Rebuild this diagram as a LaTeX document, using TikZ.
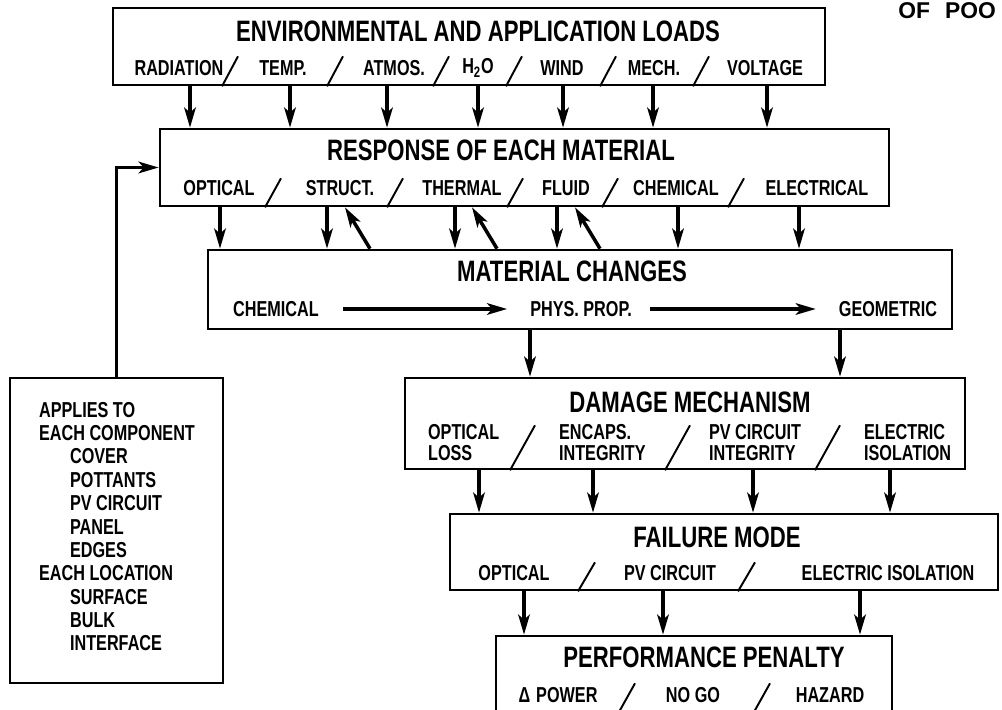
\documentclass[tikz,border=0pt]{standalone}
\usepackage{fontspec}
\newfontfamily\diagfont{Liberation Sans}[FakeStretch=0.75]
\newfontfamily\hdrfont{Liberation Sans}
\usepackage{tikz}
\usetikzlibrary{arrows.meta, positioning, calc, fit}

\begin{document}
\begin{tikzpicture}[
  x=0.2mm, y=-0.2mm,
  bx/.style={rectangle, draw=black, line width=1.5pt, inner sep=0pt},
  ttl/.style={font=\diagfont\bfseries\fontsize{16.8}{18}\selectfont, inner sep=1pt},
  lb/.style={font=\diagfont\bfseries\fontsize{12.3}{12}\selectfont, inner sep=1pt},
  ar/.style={-{Stealth[length=4mm, width=2.3mm, inset=1mm]}, line width=2pt},
  sl/.style={line width=1.1pt}
]
\clip (0,0) rectangle (1002,710);
\fill[white] (0,0) rectangle (1002,710);

%  Loads 
\node[bx, fit={(113,8) (825,85)}] (env) {};
\node[ttl] (envttl) at (478,31) {ENVIRONMENTAL AND APPLICATION LOADS};
\node[lb] (rad)   at (179,68) {RADIATION};
\node[lb] (temp)  at (283,68) {TEMP.};
\node[lb] (atmos) at (394,68) {ATMOS.};
\node[lb] (water) at (478,68) {H\textsubscript{2}O};
\node[lb] (wind)  at (562,68) {WIND};
\node[lb] (mech)  at (654,68) {MECH.};
\node[lb] (volt)  at (765,68) {VOLTAGE};
\foreach \x in {222,327,433,506,600,693}
  \draw[sl] (\x,0 |- env.south) -- ++(16,-30);

%  Material response 
\node[bx, fit={(160,129) (889,206)}] (resp) {};
\node[ttl] (respttl) at (501,150) {RESPONSE OF EACH MATERIAL};
\node[lb] (ropt)    at (219,188) {OPTICAL};
\node[lb] (rstruct) at (340,188) {STRUCT.};
\node[lb] (rtherm)  at (462,188) {THERMAL};
\node[lb] (rfluid)  at (566,188) {FLUID};
\node[lb] (rchem)   at (676,188) {CHEMICAL};
\node[lb] (relec)   at (817,188) {ELECTRICAL};
\foreach \x in {265,387,507,602,728}
  \draw[sl] (\x,0 |- resp.south) -- ++(16,-29);

%  Material changes 
\node[bx, fit={(208,250) (952,329)}] (matl) {};
\node[ttl] (matttl) at (572,271) {MATERIAL CHANGES};
\node[lb] (mchem) at (276,309) {CHEMICAL};
\node[lb] (mphys) at (581,309) {PHYS. PROP.};
\node[lb] (mgeom) at (888,309) {GEOMETRIC};

%  Damage mechanism 
\node[bx, fit={(405,378) (965,469)}] (dmg) {};
\node[ttl] (dmgttl) at (690,402) {DAMAGE MECHANISM};
\node[lb, align=left, anchor=west] (dopt)   at (426,443) {OPTICAL\\LOSS};
\node[lb, align=left, anchor=west] (dencap) at (557,443) {ENCAPS.\\INTEGRITY};
\node[lb, align=left, anchor=west] (dpv)    at (707,443) {PV CIRCUIT\\INTEGRITY};
\node[lb, align=left, anchor=west] (delec)  at (862,443) {ELECTRIC\\ISOLATION};
\foreach \x in {510,665,815}
  \draw[sl] (\x,0 |- dmg.south) -- ++(25,-45);

%  Failure mode 
\node[bx, fit={(450,514) (998,590)}] (fail) {};
\node[ttl] (failttl) at (717,537) {FAILURE MODE};
\node[lb] (fopt)  at (514,573) {OPTICAL};
\node[lb] (fpv)   at (670,573) {PV CIRCUIT};
\node[lb] (felec) at (888,573) {ELECTRIC ISOLATION};
\foreach \x in {578,738}
  \draw[sl] (\x,0 |- fail.south) -- ++(17,-29);

%  Performance penalty 
\node[bx, fit={(496,636) (892,716)}] (perf) {};
\node[ttl] (perfttl) at (704,657) {PERFORMANCE PENALTY};
\node[lb] (ppow)  at (558,695) {Δ\hspace{1.2mm}POWER};
\node[lb] (pnogo) at (693,695) {NO GO};
\node[lb] (phaz)  at (830,695) {HAZARD};
\foreach \x in {616,751}
  \draw[sl] (\x,0 |- perf.south) -- ++(19,-34);

%  Applies-to list 
\node[bx, fit={(10,378) (223,683)}] (apply) {};
\node[lb, align=left, anchor=north west,
      font=\diagfont\bfseries\fontsize{12.3}{13.3}\selectfont] (applytxt) at (37,400)
      {APPLIES TO\\EACH COMPONENT\\\hspace*{6.2mm}COVER\\\hspace*{6.2mm}POTTANTS\\
       \hspace*{6.2mm}PV CIRCUIT\\\hspace*{6.2mm}PANEL\\\hspace*{6.2mm}EDGES\\
       EACH LOCATION\\\hspace*{6.2mm}SURFACE\\\hspace*{6.2mm}BULK\\\hspace*{6.2mm}INTERFACE};

%  Page header fragment 
\node[font=\hdrfont\bfseries\fontsize{13}{14}\selectfont, anchor=west, inner sep=0pt]
      (ofpoo) at (898,11) {OF\hspace{3mm}POO};

%  Connections 
\foreach \x in {190,290,387,478,563,653,767}
  \draw[ar] (\x,0 |- env.south) -- (\x,0 |- resp.north);
\foreach \x in {220,327,455,557,678,799}
  \draw[ar] (\x,0 |- resp.south) -- (\x,0 |- matl.north);
\foreach \a/\b in {370/345,497/472,600/575}
  \draw[ar] (\a,0 |- matl.north) -- (\b,0 |- resp.south);
\draw[ar, shorten <=4.5mm, shorten >=4.2mm] (mchem) -- (mphys);
\draw[ar, shorten <=3.2mm, shorten >=4.2mm] (mphys) -- (mgeom);
\foreach \x in {530,840}
  \draw[ar] (\x,0 |- matl.south) -- (\x,0 |- dmg.north);
\foreach \x in {479,593,753,890}
  \draw[ar] (\x,0 |- dmg.south) -- (\x,0 |- fail.north);
\foreach \x in {524,663,860}
  \draw[ar] (\x,0 |- fail.south) -- (\x,0 |- perf.north);
\draw[ar] (apply.north) |- (resp.west);
\end{tikzpicture}
\end{document}
